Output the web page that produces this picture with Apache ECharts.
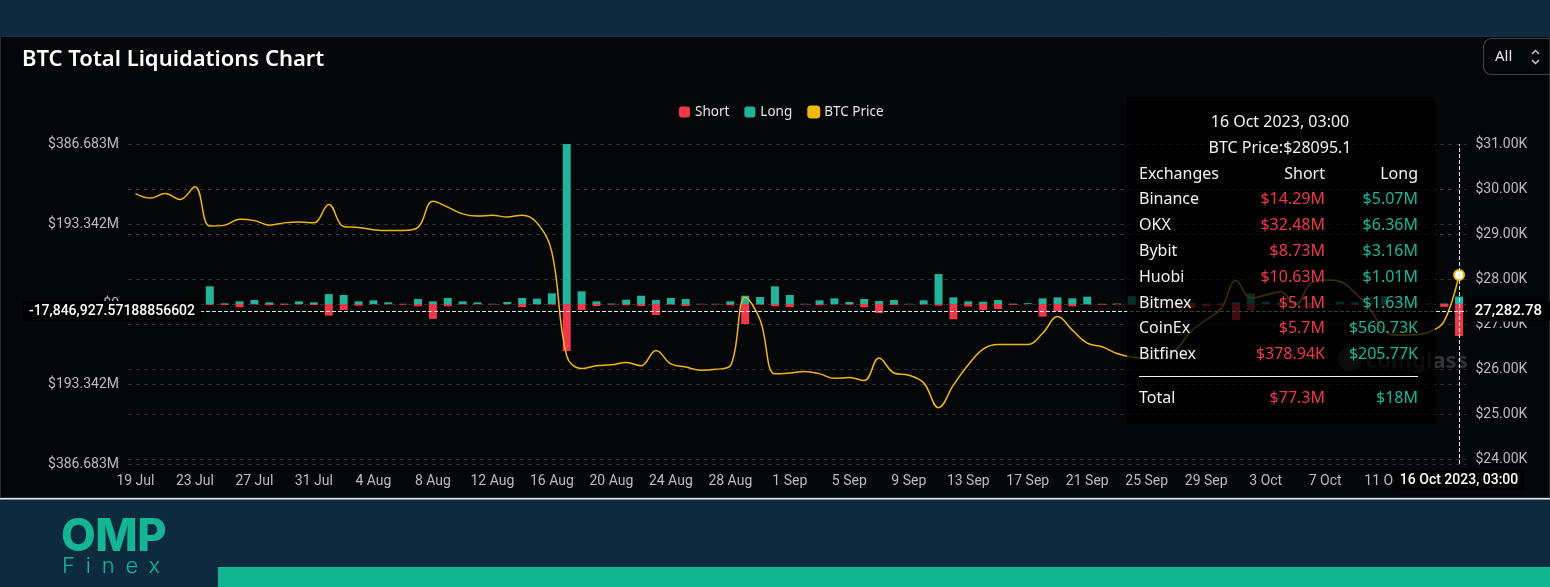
<!DOCTYPE html>
<html>
<head>
<meta charset="utf-8">
<script src="https://cdn.jsdelivr.net/npm/echarts@6/dist/echarts.min.js"></script>
<style>
html,body{margin:0;padding:0;background:#0e2a3f;overflow:hidden;}
#wrap{position:relative;width:1550px;height:587px;}
#c{position:absolute;left:0;top:0;width:1550px;height:587px;}
#logo1{position:absolute;left:61px;top:510px;font:800 45px/50px Inter,'Noto Sans',sans-serif;color:#15b495;letter-spacing:-0.5px;}
#logo2{position:absolute;left:62px;top:552px;font:300 22px/26px Inter,'Noto Sans',sans-serif;color:#15b495;letter-spacing:10.8px;}
#bar{position:absolute;left:218px;top:567px;width:1332px;height:20px;background:#11b592;}
</style>
</head>
<body>
<div id="wrap">
  <div id="c"></div>
  <div id="logo1">OMP</div>
  <div id="logo2">Finex</div>
  <div id="bar"></div>
</div>
<script>
// ---------- data ----------
const categories = [
  '19 Jul','20 Jul','21 Jul','22 Jul','23 Jul','24 Jul','25 Jul','26 Jul','27 Jul','28 Jul','29 Jul','30 Jul','31 Jul',
  '1 Aug','2 Aug','3 Aug','4 Aug','5 Aug','6 Aug','7 Aug','8 Aug','9 Aug','10 Aug','11 Aug','12 Aug','13 Aug','14 Aug','15 Aug','16 Aug',
  '17 Aug','18 Aug','19 Aug','20 Aug','21 Aug','22 Aug','23 Aug','24 Aug','25 Aug','26 Aug','27 Aug','28 Aug','29 Aug','30 Aug','31 Aug',
  '1 Sep','2 Sep','3 Sep','4 Sep','5 Sep','6 Sep','7 Sep','8 Sep','9 Sep','10 Sep','11 Sep','12 Sep','13 Sep','14 Sep','15 Sep',
  '16 Sep','17 Sep','18 Sep','19 Sep','20 Sep','21 Sep','22 Sep','23 Sep','24 Sep','25 Sep','26 Sep','27 Sep','28 Sep','29 Sep','30 Sep',
  '1 Oct','2 Oct','3 Oct','4 Oct','5 Oct','6 Oct','7 Oct','8 Oct','9 Oct','10 Oct','11 Oct','12 Oct','13 Oct','14 Oct','15 Oct','16 Oct'
];
// Long liquidations, $M
const longM = [
  0,0,0,0,0, 42.7,1.5,6.4,9.7,4, 0.8,6.4,4,24,21.7, 6.4,8.9,4,0.5,12,
  6.4,14.5,6.4,4,0.5, 4.8,14.5,12.9,25.8,386.683, 30.6,6.4,1,10.5,20, 9.7,14.5,12,0.5,0.5,
  6.4,20,17,42.7,21.7, 0.5,8.9,13.7,4.8,12, 7.2,9.7,0.5,8.9,72.5, 16,6.4,5.6,9.7,0.8,
  2,13.7,16,13.7,17.7, 0.5,1,19,3,3, 2,2,1,1,4, 25.8,5.6,4,6,3, 1,5.6,4,3,19, 3,2,1,1,18
];
// Short liquidations, $M
const shortM = [
  0,0,0,0,0, 2,2.5,8,1,3, 2,1,2.4,28,14.5, 4,1,0.8,1.5,5.6,
  36,5.6,1,0.8,1, 0.8,7.2,1,1.5,113.6, 14.5,4.8,1.5,3.2,4.8, 26.6,1.5,4.8,0.8,1,
  3.2,48.3,1.6,5.6,7.2, 1,3.2,1,1.6,8, 21.7,2.4,0.8,1.5,4, 37,6,14.5,12,2,
  0.3,30.6,17.7,5.6,1, 1.5,1,2,2,3, 3,10,6,3,38.7, 14.5,1,3,3,12, 1,1,3,2,2, 3,4,1,7,77.3
];
// BTC price, $
const btcPrice = [
  29900,29800,29900,29770,30050, 29180,29200,29330,29300,29200, 29250,29270,29250,29660,29170,
  29150,29100,29080,29080,29150, 29730,29600,29450,29400,29420, 29380,29420,29250,28600,26300,
  26020,26080,26100,26150,26080, 26420,26120,26050,25980,26000, 26080,27600,27100,25900,25920,
  25950,25900,25800,25820,25750, 26250,25920,25870,25700,25150, 25650,26100,26450,26550,26550,
  26550,26800,27170,26870,26580, 26500,26350,26270,26250,26240, 26450,26850,27100,27350,27970,
  27580,27650,27720,27430,27900, 27980,27950,27700,27350,26850, 26760,26770,26830,27070,28095.1
];
const priceTicks = [24000,25000,26000,27000,28000,29000,30000,31000];
const liqMax = 386683000;
// tooltip content for the highlighted point
const tipTime = '16 Oct 2023, 03:00';
const exchanges = ['Binance','OKX','Bybit','Huobi','Bitmex','CoinEx','Bitfinex'];
const exShort = ['$14.29M','$32.48M','$8.73M','$10.63M','$5.1M','$5.7M','$378.94K'];
const exLong = ['$5.07M','$6.36M','$3.16M','$1.01M','$1.63M','$560.73K','$205.77K'];
const totalShort = '$77.3M';
const totalLong = '$18M';
const pointerLeftLabel = '-17,846,927.57188856602';
const pointerRightLabel = '27,282.78';

// ---------- styles ----------
const RED = '#f0384b', TEAL = '#22b39a', GOLD = '#d9a712';
const AXIS_TXT = '#b9bcc2', GRID_LINE = '#2a2e35';
const FONT = 'Roboto';

const chart = echarts.init(document.getElementById('c'), null, {renderer:'canvas'});

function tipHtml() {
  const td = 'padding:0;';
  let rows = `<tr><td style="${td}width:110px">Exchanges</td><td style="${td}width:76px;text-align:right">Short</td><td style="${td}text-align:right">Long</td></tr>`;
  exchanges.forEach((e, i) => {
    rows += `<tr><td style="${td}">${e}</td><td style="${td}text-align:right;color:${RED}">${exShort[i]}</td><td style="${td}text-align:right;color:#1fb597">${exLong[i]}</td></tr>`;
  });
  return `<div style="width:279px;padding:12px 17px 13px 12px;font:16px/25.8px 'Noto Sans',sans-serif;color:#f2f2f2;">
    <div style="text-align:center;margin-left:3px">${tipTime}</div>
    <div style="text-align:center;margin-left:3px">BTC Price:$${btcPrice[btcPrice.length-1]}</div>
    <table style="border-collapse:collapse;width:279px;font:inherit;color:inherit">${rows}</table>
    <div style="height:0;border-top:1.5px solid #f2f2f2;margin:9.5px 0 8px 0"></div>
    <table style="border-collapse:collapse;width:279px;font:inherit;color:inherit"><tr><td style="${td}width:110px">Total</td><td style="${td}width:76px;text-align:right;color:${RED}">${totalShort}</td><td style="${td}text-align:right;color:#1fb597">${totalLong}</td></tr></table>
  </div>`;
}

const option = {
  animation: false,
  backgroundColor: '#0e2a3f',
  title: {
    text: 'BTC Total Liquidations Chart',
    left: 17, top: 44,
    textStyle: {color:'#ffffff', fontSize:22, fontWeight:600, fontFamily:'Noto Sans'}
  },
  legend: {
    left: 674, top: 100,
    itemWidth: 11, itemHeight: 11, itemGap: 15,
    icon: 'roundRect',
    textStyle: {color:'#e6e6e6', fontSize:13.5, fontFamily:'Noto Sans'},
    data: ['Short','Long','BTC Price']
  },
  grid: {left:128, right:83.5, top:144, bottom:123, outerBoundsMode:'none', containLabel:false},
  tooltip: {
    trigger: 'axis',
    triggerOn: 'none',
    alwaysShowContent: true,
    transitionDuration: 0,
    position: [1127, 97],
    backgroundColor: 'rgba(0,0,0,0.74)',
    borderWidth: 0,
    borderColor: 'transparent',
    padding: 0,
    extraCssText: 'box-shadow:none;border-radius:4px;',
    formatter: tipHtml,
    axisPointer: {
      type: 'cross',
      lineStyle: {color:'#e4e4e4', type:'dashed', width:1},
      crossStyle: {color:'#e4e4e4', type:'dashed', width:1},
      label: {backgroundColor:'#000000', color:'#ffffff', fontSize:14, fontFamily:FONT, fontWeight:500, padding:[3,6,3,6], shadowBlur:0}
    }
  },
  xAxis: {
    type: 'category',
    data: categories,
    boundaryGap: true,
    axisLine: {show:false},
    axisTick: {show:false},
    splitLine: {show:false},
    axisLabel: {interval:3, color:AXIS_TXT, fontSize:14, fontFamily:FONT, margin:10},
    axisPointer: {label: {formatter: () => tipTime, margin: 6}}
  },
  yAxis: [
    {
      type: 'value',
      min: -liqMax, max: liqMax, interval: liqMax / 2,
      axisLine: {show:false}, axisTick: {show:false},
      splitLine: {show:true, lineStyle:{color:GRID_LINE, type:[4,4], width:1}},
      axisLabel: {
        color: AXIS_TXT, fontSize:14, fontFamily:FONT, margin:9,
        formatter: v => v === 0 ? '$0' : '$' + (Math.round(Math.abs(v) / 1000) / 1000).toFixed(3) + 'M'
      },
      axisPointer: {label: {formatter: () => pointerLeftLabel, margin: -73}}
    },
    {
      type: 'value',
      position: 'right',
      min: 23900, max: 31000,
      axisLine: {show:false},
      axisTick: {show:false, customValues: priceTicks},
      splitLine: {show:true, lineStyle:{color:GRID_LINE, type:[4,4], width:1}},
      axisLabel: {
        customValues: priceTicks,
        color: AXIS_TXT, fontSize:14, fontFamily:FONT, margin:9,
        formatter: v => '$' + (v / 1000).toFixed(2) + 'K'
      },
      axisPointer: {label: {formatter: () => pointerRightLabel, margin: 1, fontSize:15, padding:[3,8,3,8]}}
    }
  ],
  graphic: [
    {type:'rect', z:-100, silent:true, shape:{x:0.5, y:36.5, width:1549, height:461}, style:{fill:'#050608', stroke:'#272c34', lineWidth:1}},
    {type:'rect', z:-99, silent:true, shape:{x:0, y:498, width:1550, height:1.5}, style:{fill:'#e9e9e9'}},
    {type:'rect', z:-90, silent:true, shape:{x:1483.5, y:38.5, width:90, height:36, r:8}, style:{fill:'transparent', stroke:'#3d424a', lineWidth:1.2}},
    {type:'text', z:-90, silent:true, style:{x:1495, y:57, text:'All', fill:'#e8e8e8', font:'15px "Noto Sans"', verticalAlign:'middle'}},
    {type:'polyline', z:-90, silent:true, shape:{points:[[1532,54],[1535.5,50.5],[1539,54]]}, style:{stroke:'#cfcfcf', lineWidth:1.4, fill:null}},
    {type:'polyline', z:-90, silent:true, shape:{points:[[1532,60],[1535.5,63.5],[1539,60]]}, style:{stroke:'#cfcfcf', lineWidth:1.4, fill:null}},
    {type:'circle', z:-80, silent:true, shape:{cx:1350, cy:359, r:12}, style:{fill:'rgba(150,150,150,0.28)'}},
    {type:'text', z:-80, silent:true, style:{x:1366, y:362, text:'coinglass', fill:'rgba(150,150,150,0.32)', font:'bold 22px "Noto Sans"', verticalAlign:'middle'}}
  ],
  series: [
    {
      name: 'Short', type: 'bar', yAxisIndex: 0,
      data: shortM.map(v => -v * 1e6),
      barWidth: 8, barGap: '-100%',
      itemStyle: {color: RED},
      emphasis: {disabled: true}
    },
    {
      name: 'Long', type: 'bar', yAxisIndex: 0,
      data: longM.map(v => v * 1e6),
      barWidth: 8, barGap: '-100%',
      itemStyle: {color: TEAL},
      emphasis: {disabled: true}
    },
    {
      name: 'BTC Price', type: 'line', yAxisIndex: 1,
      data: btcPrice,
      smooth: 0.4,
      showSymbol: false,
      symbol: 'emptyCircle',
      symbolSize: 10,
      lineStyle: {color: GOLD, width: 1.5},
      itemStyle: {color: '#f0b90b', borderColor: '#f0b90b', borderWidth: 2.5},
      emphasis: {scale: false, lineStyle: {width: 1.5}},
      z: 5
    }
  ]
};
chart.setOption(option);
chart.dispatchAction({type:'showTip', x: 1458, y: 311});
</script>
</body>
</html>
